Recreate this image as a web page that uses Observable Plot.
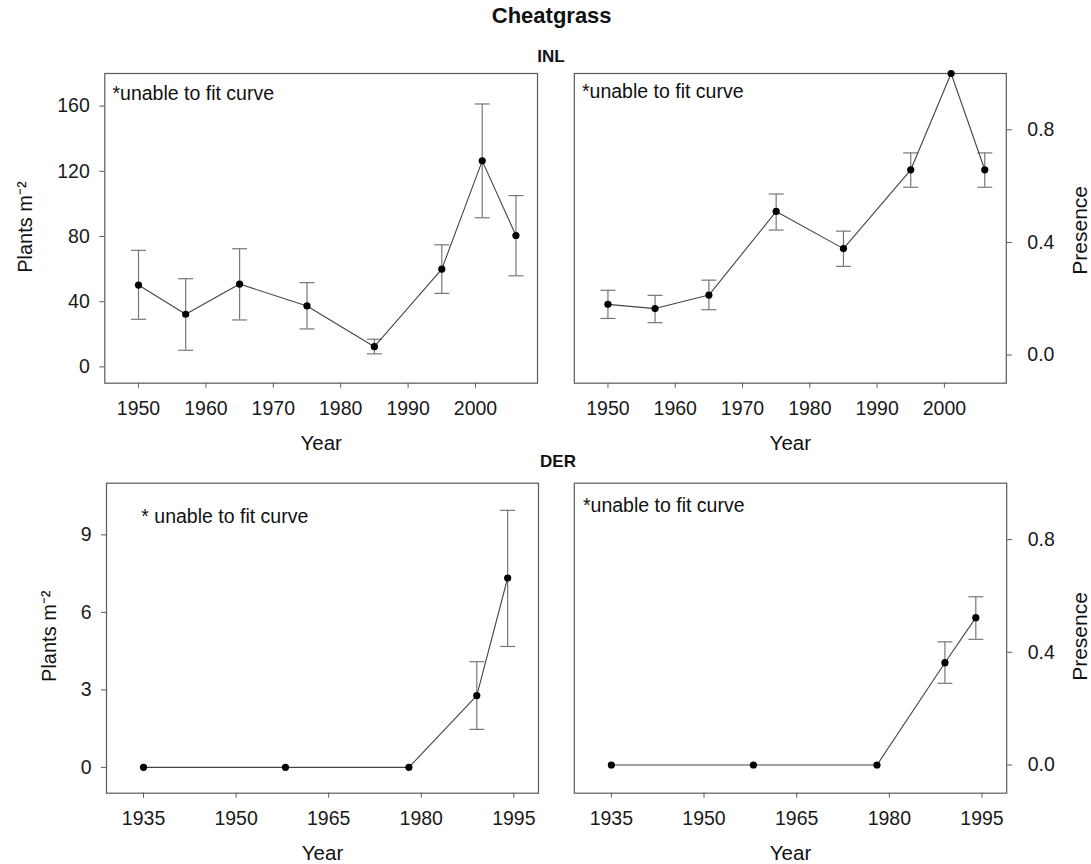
<!DOCTYPE html>
<html><head><meta charset="utf-8">
<script src="https://cdn.jsdelivr.net/npm/d3@7"></script>
<script src="https://cdn.jsdelivr.net/npm/@observablehq/plot@0.6"></script>
<style>
body{margin:0;background:#fff;font-family:"Liberation Sans",Arial,sans-serif;}
#wrap{position:relative;width:1091px;height:864px;overflow:hidden;background:#fff;}
.pan{position:absolute;}
.lbl{position:absolute;transform:translate(-50%,-50%);font-weight:bold;color:#111;white-space:nowrap;font-family:"Liberation Sans",Arial,sans-serif;}
</style></head><body><div id="wrap"></div>
<script>
// ---- text ----
const chartTitle = "Cheatgrass";
const rowTitles = ["INL", "DER"];
const noteText = "*unable to fit curve";
const noteTextDER = "* unable to fit curve";
const xLabel = "Year";
const densityLabel = "Plants m\u207B\u00B2";
const presenceLabel = "Presence";

// ---- INL data ----
const inlYears = [1950, 1957, 1965, 1975, 1985, 1995, 2001, 2006];
const inlDensity   = [50.2, 32.3, 50.8, 37.4, 12.4, 60.0, 126.4, 80.6];
const inlDensityLo = [29.2, 10.2, 28.8, 23.3, 8.0, 45.1, 91.5, 55.9];
const inlDensityHi = [71.5, 54.1, 72.5, 51.7, 17.0, 74.9, 161.3, 105.1];
const inlPresence   = [0.180, 0.165, 0.213, 0.510, 0.378, 0.658, 1.0, 0.658];
const inlPresenceLo = [0.130, 0.115, 0.161, 0.444, 0.315, 0.596, null, 0.596];
const inlPresenceHi = [0.230, 0.212, 0.266, 0.572, 0.440, 0.718, null, 0.718];

// ---- DER data ----
const derYears = [1935, 1958, 1978, 1989, 1994];
const derDensity   = [0, 0, 0, 2.78, 7.33];
const derDensityLo = [null, null, null, 1.47, 4.68];
const derDensityHi = [null, null, null, 4.09, 9.95];
const derPresence   = [0, 0, 0, 0.363, 0.523];
const derPresenceLo = [null, null, null, 0.290, 0.446];
const derPresenceHi = [null, null, null, 0.437, 0.597];

// ---- ticks ----
const inlXTicks = [1950, 1960, 1970, 1980, 1990, 2000];
const derXTicks = [1935, 1950, 1965, 1980, 1995];
const inlDensityTicks = [0, 40, 80, 120, 160];
const derDensityTicks = [0, 3, 6, 9];
const presenceTicks = [0, 0.4, 0.8];

const FONT = '"Liberation Sans", Arial, sans-serif';
const wrap = document.getElementById("wrap");

const capSymbol = {draw(ctx) { ctx.moveTo(-7.5, 0); ctx.lineTo(7.5, 0); }};

function panel(o) {
  const data = o.years.map((y, i) => ({year: y, v: o.vals[i], lo: o.lo[i], hi: o.hi[i]}));
  const err = data.filter(d => d.lo != null);
  const right = o.yAxis === "right";
  const svg = Plot.plot({
    width: o.width, height: o.height,
    marginLeft: o.m[0], marginRight: o.m[1], marginTop: o.m[2], marginBottom: o.m[3],
    x: {domain: o.xDomain, ticks: o.xTicks, tickSize: 5, tickPadding: 13, tickFormat: d => String(d), label: null},
    y: {domain: o.yDomain, ticks: o.yTicks, tickSize: 5, tickPadding: right ? 16 : 10,
        tickFormat: o.yFormat, label: null, axis: o.yAxis},
    style: {fontSize: "19.5px", fontFamily: FONT, color: "#1a1a1a", background: "transparent", overflow: "visible"},
    marks: [
      Plot.frame({stroke: "#5a5a5a", strokeWidth: 1.2}),
      Plot.ruleX(err, {x: "year", y1: "lo", y2: "hi", stroke: "#777", strokeWidth: 1.2}),
      Plot.dot(err, {x: "year", y: "lo", symbol: capSymbol, r: 5, fill: "none", stroke: "#777", strokeWidth: 1.2}),
      Plot.dot(err, {x: "year", y: "hi", symbol: capSymbol, r: 5, fill: "none", stroke: "#777", strokeWidth: 1.2}),
      Plot.line(data, {x: "year", y: "v", stroke: "#444", strokeWidth: 1.1}),
      Plot.dot(data, {x: "year", y: "v", r: 3.6, fill: "#000", stroke: "none"}),
      Plot.text([o.note], {text: d => d, frameAnchor: "top-left", textAnchor: "start", lineAnchor: "middle",
        dx: o.noteDx, dy: o.noteDy, fontSize: 19.5, fill: "#111"}),
      Plot.text([xLabel], {text: d => d, frameAnchor: "bottom", lineAnchor: "middle", dy: 60.6, fontSize: 20.5, fill: "#111"}),
      Plot.text([o.yLabel], {text: d => d, frameAnchor: o.yAxis, rotate: -90, textAnchor: "middle", lineAnchor: "middle",
        dx: o.yLabDx, dy: o.yLabDy, fontSize: o.yLabSize, fill: "#111"})
    ]
  });
  svg.querySelectorAll('[stroke="currentColor"]').forEach(e => e.setAttribute("stroke", "#5a5a5a"));
  const div = document.createElement("div");
  div.className = "pan";
  div.style.left = o.left + "px";
  div.style.top = o.top + "px";
  div.appendChild(svg);
  wrap.appendChild(div);
}

const fmt1 = d => d.toFixed(1);
const fmt0 = d => String(d);

panel({left: 0, top: 60, width: 560, height: 400, m: [104.3, 23, 13, 77.3],
  years: inlYears, vals: inlDensity, lo: inlDensityLo, hi: inlDensityHi,
  xDomain: [1945, 2009.2], xTicks: inlXTicks, yDomain: [-10, 180], yTicks: inlDensityTicks, yFormat: fmt0,
  yAxis: "left", yLabel: densityLabel, yLabDx: -79.3, yLabDy: -1.3, yLabSize: 20,
  note: noteText, noteDx: 7.7, noteDy: 20});

panel({left: 545, top: 60, width: 546, height: 400, m: [28.8, 85.2, 13, 77.3],
  years: inlYears, vals: inlPresence, lo: inlPresenceLo, hi: inlPresenceHi,
  xDomain: [1945, 2009.2], xTicks: inlXTicks, yDomain: [-0.1, 1.0], yTicks: presenceTicks, yFormat: fmt1,
  yAxis: "right", yLabel: presenceLabel, yLabDx: 74, yLabDy: 2, yLabSize: 21,
  note: noteText, noteDx: 7.7, noteDy: 18.7});

panel({left: 0, top: 470, width: 560, height: 394, m: [106, 22, 12.7, 71.3],
  years: derYears, vals: derDensity, lo: derDensityLo, hi: derDensityHi,
  xDomain: [1929, 1999], xTicks: derXTicks, yDomain: [-1, 11], yTicks: derDensityTicks, yFormat: fmt0,
  yAxis: "left", yLabel: densityLabel, yLabDx: -56.5, yLabDy: -2, yLabSize: 20,
  note: noteTextDER, noteDx: 34.8, noteDy: 34});

panel({left: 545, top: 470, width: 546, height: 394, m: [28.8, 84.8, 12.7, 71.3],
  years: derYears, vals: derPresence, lo: derPresenceLo, hi: derPresenceHi,
  xDomain: [1929, 1999], xTicks: derXTicks, yDomain: [-0.1, 1.0], yTicks: presenceTicks, yFormat: fmt1,
  yAxis: "right", yLabel: presenceLabel, yLabDx: 74, yLabDy: -1.7, yLabSize: 21,
  note: noteText, noteDx: 8.7, noteDy: 22.3});

function label(text, x, y, size) {
  const d = document.createElement("div");
  d.className = "lbl";
  d.textContent = text;
  d.style.left = x + "px";
  d.style.top = y + "px";
  d.style.fontSize = size + "px";
  wrap.appendChild(d);
}
label(chartTitle, 551.7, 16, 22);
label(rowTitles[0], 551, 57.3, 17);
label(rowTitles[1], 558, 461.7, 17);
</script></body></html>
